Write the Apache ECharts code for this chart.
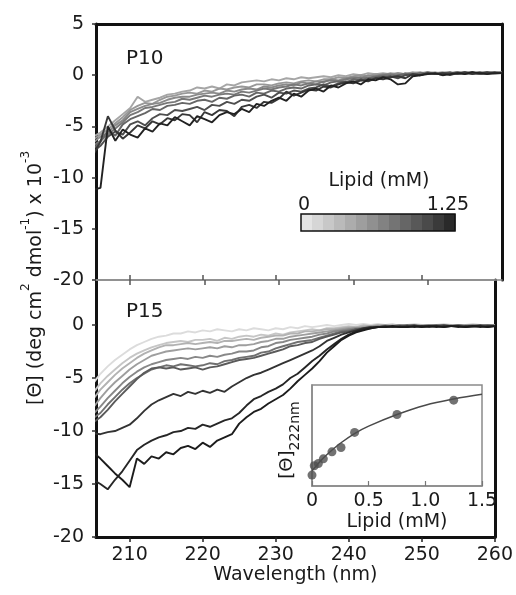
<!DOCTYPE html>
<html><head><meta charset="utf-8">
<script src="https://cdn.jsdelivr.net/npm/echarts@6/dist/echarts.min.js"></script>
<style>html,body{margin:0;padding:0;background:#fff}#c{width:516px;height:595px}</style>
</head><body><div id="c"></div>
<script>
// ---------------- data ----------------
const wavelength = [205,206,207,208,209,210,211,212,213,214,215,216,217,218,219,220,221,222,223,224,225,226,227,228,229,230,231,232,233,234,235,236,237,238,239,240,241,242,243,244,245,246,247,248,249,250,251,252,253,254,255,256,257,258,259,260];
const xTickValues = [210,220,230,240,250,260];
const xInnerTicks = [210,220,230,240,250];
const yTicksTop = [-20,-15,-10,-5,0,5];
const yTicksBottom = [-20,-15,-10,-5,0];
const insetXTicks = [0,0.5,1.0,1.5];
const insetXTickLabels = ['0','0.5','1.0','1.5'];
const lipidScaleLabels = ['0','1.25'];

// P10 spectra (low -> high lipid)
const p10_1 = [-6.0,-5.6,-5.0,-4.4,-3.8,-3.2,-2.1,-2.6,-2.4,-2.2, -1.9,-1.8,-1.6,-1.5,-1.2,-1.3,-1.1,-1.3,-0.9,-1.0, -0.7,-0.6,-0.5,-0.6,-0.4,-0.5,-0.3,-0.4,-0.2,-0.3, -0.2,-0.1,-0.2,0.0,-0.1,0.1,0.0,0.2,0.1,0.2, 0.1,0.2,0.1,0.3,0.2,0.2,0.3,0.1,0.2,0.3, 0.2,0.3,0.1,0.3,0.2,0.2];
const p10_2 = [-6.3,-5.8,-5.3,-4.7,-4.1,-3.4,-3.0,-2.7,-2.8,-2.4, -2.1,-2.0,-1.8,-1.7,-1.8,-1.5,-1.6,-1.3,-1.4,-1.2, -1.1,-1.2,-0.9,-0.9,-1.0,-0.8,-0.7,-0.8,-0.6,-0.5, -0.6,-0.4,-0.4,-0.2,-0.3,-0.1,0.0,-0.1,0.1,0.0, 0.2,0.1,0.0,0.2,0.3,0.1,0.2,0.3,0.2,0.1, 0.3,0.2,0.2,0.3,0.1,0.2];
const p10_3 = [-6.6,-6.0,-5.6,-4.9,-4.4,-3.6,-3.3,-3.0,-2.8,-2.7, -2.4,-2.2,-2.1,-2.1,-1.9,-1.8,-1.7,-1.8,-1.5,-1.6, -1.4,-1.3,-1.4,-1.1,-1.2,-1.0,-0.9,-1.0,-0.7,-0.8, -0.6,-0.7,-0.4,-0.5,-0.3,-0.2,-0.3,0.0,-0.1,0.1, 0.0,0.2,0.1,0.2,0.0,0.3,0.2,0.2,0.1,0.3, 0.2,0.1,0.3,0.2,0.2,0.3];
const p10_4 = [-6.9,-6.4,-5.8,-5.2,-4.6,-3.9,-3.6,-3.2,-3.1,-2.9, -2.7,-2.6,-2.3,-2.4,-2.2,-2.0,-2.1,-1.9,-1.8,-1.9, -1.6,-1.7,-1.5,-1.3,-1.4,-1.2,-1.1,-0.9,-1.0,-0.8, -0.9,-0.6,-0.5,-0.6,-0.4,-0.3,-0.2,-0.3,-0.1,0.0, 0.1,-0.1,0.2,0.1,0.2,0.3,0.1,0.2,0.2,0.1, 0.3,0.2,0.1,0.2,0.3,0.2];
const p10_5 = [-7.2,-6.5,-5.4,-5.9,-4.8,-4.3,-4.0,-3.7,-3.3,-3.4, -3.0,-2.9,-2.7,-2.8,-2.5,-2.4,-2.6,-2.2,-2.3,-2.0, -1.9,-2.1,-1.7,-1.8,-1.5,-1.6,-1.3,-1.2,-1.3,-1.0, -0.9,-1.0,-0.7,-0.6,-0.7,-0.4,-0.5,-0.3,-0.2,-0.1, -0.2,0.0,0.1,0.0,0.2,0.1,0.2,0.0,0.2,0.3, 0.1,0.2,0.3,0.1,0.2,0.3];
const p10_6 = [-7.5,-6.9,-6.0,-5.5,-5.8,-4.8,-4.5,-4.9,-4.2,-3.8, -3.9,-3.4,-3.5,-3.3,-3.1,-3.4,-2.9,-3.0,-2.6,-2.8, -2.4,-2.5,-2.1,-1.9,-2.2,-1.7,-1.8,-1.5,-1.6,-1.3, -1.2,-0.9,-1.1,-0.8,-0.6,-0.7,-0.4,-0.5,-0.3,-0.2, -0.1,-0.3,0.0,0.1,0.0,0.2,0.1,0.2,0.3,0.1, 0.2,0.3,0.1,0.2,0.3,0.2];
const p10_7 = [-7.8,-6.5,-4.0,-5.4,-6.2,-5.6,-4.9,-5.2,-4.5,-4.8, -4.2,-4.4,-3.8,-3.9,-4.6,-3.6,-3.9,-3.4,-3.5,-4.0, -3.1,-2.9,-3.2,-2.6,-2.7,-2.3,-1.6,-2.0,-1.7,-1.4, -1.5,-1.1,-1.2,-0.9,-0.7,-0.8,-0.5,-0.6,-0.3,-0.4, -0.2,-0.1,-0.3,0.1,0.0,0.2,0.1,0.2,0.0,0.2, 0.3,0.1,0.2,0.3,0.2,0.2];
const p10_8 = [-11.2,-11.0,-5.0,-6.4,-5.3,-5.8,-6.1,-5.2,-5.5,-4.7, -4.9,-4.1,-4.5,-4.9,-4.0,-4.3,-4.6,-3.9,-3.6,-3.8, -3.3,-3.6,-2.8,-3.0,-2.5,-2.2,-2.5,-1.8,-2.1,-1.5, -1.3,-1.6,-1.0,-1.2,-0.8,-0.6,-0.9,-0.4,-0.5,-0.2, -0.4,-0.9,-0.8,-0.1,0.0,0.1,0.2,0.0,0.1,0.2, 0.1,0.3,0.2,0.1,0.2,0.2];

// P15 spectra (low -> high lipid)
const p15_1 = [-5.5,-4.6,-3.9,-3.3,-2.8,-2.3,-1.9,-1.6,-1.3,-1.1, -1.0,-0.8,-0.8,-0.6,-0.7,-0.5,-0.6,-0.4,-0.5,-0.6, -0.4,-0.5,-0.3,-0.4,-0.5,-0.3,-0.4,-0.2,-0.3,-0.1, -0.2,-0.1,0.0,-0.1,0.0,0.1,0.0,0.1,0.0,0.1, 0.0,0.1,-0.1,0.0,0.1,0.0,-0.1,0.0,0.1,0.0, -0.1,0.0,0.1,0.0,-0.1,0.0];
const p15_2 = [-6.4,-5.5,-4.8,-4.2,-3.6,-3.1,-2.7,-2.4,-2.1,-1.9, -1.7,-1.6,-1.5,-1.6,-1.4,-1.4,-1.3,-1.5,-1.2,-1.3, -1.1,-1.0,-1.1,-0.9,-1.0,-0.8,-0.9,-0.7,-0.6,-0.5, -0.4,-0.5,-0.3,-0.3,-0.2,-0.1,-0.2,0.0,-0.1,0.0, 0.0,-0.1,0.0,-0.1,0.0,0.0,-0.1,0.0,-0.1,0.0, -0.1,0.0,0.0,-0.1,0.0,-0.1];
const p15_3 = [-7.0,-6.1,-5.4,-4.7,-4.1,-3.6,-3.1,-2.7,-2.4,-2.1, -1.9,-1.9,-1.8,-1.7,-1.8,-1.7,-1.6,-1.7,-1.5,-1.5, -1.4,-1.3,-1.4,-1.2,-1.1,-1.0,-1.0,-0.8,-0.8,-0.6, -0.6,-0.5,-0.4,-0.4,-0.3,-0.2,-0.2,-0.1,-0.1,0.0, -0.1,0.0,-0.1,0.0,-0.1,0.0,0.0,-0.1,0.0,-0.1, 0.0,-0.1,0.0,0.0,-0.1,0.0];
const p15_4 = [-7.8,-6.9,-6.1,-5.4,-4.8,-4.2,-3.7,-3.3,-2.9,-2.7, -2.5,-2.4,-2.3,-2.2,-2.3,-2.2,-2.1,-2.2,-2.0,-2.1, -1.9,-1.9,-1.8,-1.6,-1.5,-1.3,-1.3,-1.1,-1.0,-0.9, -0.8,-0.7,-0.6,-0.5,-0.4,-0.3,-0.3,-0.2,-0.1,-0.1, 0.0,-0.1,0.0,-0.1,0.0,-0.1,0.0,0.0,-0.1,0.0, -0.1,0.0,0.0,-0.1,0.0,-0.1];
const p15_5 = [-8.4,-7.7,-6.9,-6.2,-5.5,-4.9,-4.4,-4.0,-3.7,-3.5, -3.3,-3.2,-3.1,-3.2,-3.0,-3.1,-2.9,-3.0,-2.8,-2.7, -2.5,-2.5,-2.4,-2.1,-2.0,-1.7,-1.6,-1.4,-1.3,-1.2, -1.1,-0.9,-0.8,-0.6,-0.5,-0.4,-0.3,-0.3,-0.2,-0.1, -0.2,-0.1,0.0,-0.1,0.0,-0.1,0.0,-0.1,0.0,-0.1, 0.0,-0.1,0.0,-0.1,0.0,0.0];
const p15_6 = [-8.8,-8.3,-7.5,-6.8,-6.1,-5.5,-5.0,-4.6,-4.2,-4.0, -3.8,-3.9,-3.7,-3.8,-3.9,-3.8,-3.6,-3.7,-3.4,-3.3, -3.1,-3.0,-2.9,-2.6,-2.5,-2.2,-2.0,-1.8,-1.6,-1.5, -1.4,-1.2,-1.0,-0.8,-0.6,-0.5,-0.4,-0.3,-0.2,-0.2, -0.1,-0.2,-0.1,0.0,-0.1,-0.2,-0.1,0.0,-0.1,-0.1, 0.0,-0.1,-0.2,-0.1,0.0,-0.1];
const p15_7 = [-9.2,-8.7,-8.0,-7.2,-6.5,-5.8,-5.1,-4.5,-4.1,-4.0, -4.1,-4.0,-4.2,-4.1,-4.0,-4.2,-4.0,-3.9,-3.7,-3.5, -3.3,-3.2,-3.1,-2.9,-2.7,-2.5,-2.3,-2.0,-1.9,-1.7, -1.6,-1.3,-1.1,-0.9,-0.7,-0.6,-0.4,-0.4,-0.2,-0.2, -0.1,-0.2,-0.1,-0.1,0.0,-0.2,-0.1,-0.1,0.0,-0.1, -0.1,-0.2,-0.1,0.0,-0.1,-0.1];
const p15_8 = [-10.2,-10.3,-10.1,-10.0,-9.7,-9.4,-8.8,-8.1,-7.5,-7.1, -6.8,-6.5,-6.7,-6.3,-6.5,-6.2,-6.4,-6.1,-6.3,-5.8, -5.4,-5.0,-4.7,-4.5,-4.2,-3.9,-3.6,-3.3,-3.0,-2.7, -2.4,-2.0,-1.5,-1.2,-0.9,-0.7,-0.5,-0.3,-0.2,-0.2, -0.1,-0.2,-0.1,-0.2,-0.1,-0.1,-0.2,-0.1,-0.2,-0.1, -0.1,-0.2,-0.1,-0.1,-0.2,-0.1];
const p15_9 = [-14.6,-15.0,-15.5,-14.6,-13.8,-12.8,-11.8,-11.3,-10.9,-10.6, -10.4,-10.1,-10.0,-9.7,-9.8,-9.4,-9.6,-9.3,-9.0,-8.8, -8.3,-7.6,-7.0,-6.7,-6.3,-6.0,-5.6,-5.0,-4.6,-4.0, -3.4,-2.9,-2.3,-1.8,-1.3,-0.9,-0.6,-0.4,-0.3,-0.2, -0.2,-0.1,-0.2,-0.1,-0.2,-0.1,-0.1,-0.2,-0.1,-0.1, -0.2,-0.1,-0.1,-0.2,-0.1,-0.1];
const p15_10 = [-12.0,-12.6,-13.3,-14.0,-14.6,-15.3,-12.6,-13.1,-12.4,-12.6, -12.0,-12.2,-11.6,-11.4,-11.7,-11.1,-11.5,-10.9,-10.6,-10.3, -9.3,-8.7,-8.2,-7.9,-7.4,-7.0,-6.6,-6.0,-5.3,-4.7, -4.1,-3.4,-2.6,-2.0,-1.4,-1.0,-0.7,-0.5,-0.3,-0.2, -0.2,-0.1,-0.2,-0.2,-0.1,-0.2,-0.1,-0.1,-0.2,-0.1, -0.1,-0.2,-0.1,-0.1,-0.2,-0.1];

// inset: [Θ]222nm vs lipid
const insetLipid = [0, 0.02, 0.056, 0.1, 0.176, 0.256, 0.376, 0.75, 1.25];
const insetTheta = [-1.4, -2.6, -2.9, -3.5, -4.4, -4.95, -6.9, -9.2, -11.05];
const fitLipid = [0, 0.05, 0.1, 0.175, 0.25, 0.375, 0.5, 0.75, 1.0, 1.25, 1.5];
const fitTheta = [-1.95, -2.8, -3.6, -4.6, -5.5, -6.75, -7.7, -9.2, -10.4, -11.2, -11.8];

// ---------------- styles ----------------
const p10Series = [p10_1,p10_2,p10_3,p10_4,p10_5,p10_6,p10_7,p10_8];
const p10Colors = ['#a6a6a6','#989898','#8a8a8a','#787878','#666666','#4e4e4e','#383838','#222222'];
const p15Series = [p15_1,p15_2,p15_3,p15_4,p15_5,p15_6,p15_7,p15_8,p15_9,p15_10];
const p15Colors = ['#dcdcdc','#c6c6c6','#b2b2b2','#9e9e9e','#888888','#707070','#5a5a5a','#333333','#262626','#1c1c1c'];
const scaleColors = ['#e4e4e4','#d6d6d6','#c8c8c8','#bababa','#acacac','#9e9e9e','#909090','#828282','#747474','#666666','#585858','#4a4a4a','#3a3a3a','#2a2a2a'];

const FONT = 'DejaVu Sans';
const TXT = '#1a1a1a';
const pair = (xs, ys) => xs.map((x, i) => [x, ys[i]]);

const series = [];
p10Series.forEach((s, i) => series.push({
  type: 'line', xAxisIndex: 0, yAxisIndex: 0, data: pair(wavelength, s),
  showSymbol: false, lineStyle: { color: p10Colors[i], width: 1.9 }, z: 2 + i
}));
p15Series.forEach((s, i) => series.push({
  type: 'line', xAxisIndex: 2, yAxisIndex: 2, data: pair(wavelength, s),
  showSymbol: false, lineStyle: { color: p15Colors[i], width: 1.9 }, z: 2 + i
}));
series.push({ type: 'line', xAxisIndex: 4, yAxisIndex: 4, data: pair(fitLipid, fitTheta),
  smooth: 0.4, showSymbol: false, lineStyle: { color: '#4a4a4a', width: 1.5 }, z: 20 });
series.push({ type: 'scatter', xAxisIndex: 4, yAxisIndex: 4, data: pair(insetLipid, insetTheta),
  symbolSize: 9, itemStyle: { color: '#4f4f4f' }, z: 21 });

// colour scale legend
const sbX = 301, sbY = 214, sbW = 154, sbH = 17;
const scaleRects = scaleColors.map((c, i) => ({
  type: 'rect', shape: { x: sbX + i * sbW / scaleColors.length, y: sbY, width: sbW / scaleColors.length + 0.5, height: sbH },
  style: { fill: c }, silent: true
}));

const lblStyle = { fontFamily: FONT, fontSize: 19, color: TXT };
const noZero = { onZero: false };

const option = {
  animation: false,
  backgroundColor: '#fff',
  grid: [
    { left: 96, top: 24, width: 406, height: 256 },
    { left: 96, top: 280, width: 406, height: 257 },
    { left: 312, top: 385, width: 170, height: 101, show: true, backgroundColor: '#fff', borderColor: '#8a8a8a', borderWidth: 1.5 }
  ],
  xAxis: [
    { gridIndex: 0, type: 'value', position: 'bottom', min: 205.4, max: 260,
      axisLine: { onZero: false, lineStyle: { color: '#8a8a8a', width: 1.5 } },
      axisTick: { show: true, inside: false, length: 5, customValues: xInnerTicks, lineStyle: { color: '#555', width: 1.5 } },
      axisLabel: { show: false }, splitLine: { show: false } },
    { gridIndex: 0, type: 'value', position: 'top', min: 205.4, max: 260,
      axisLine: { onZero: false, lineStyle: { color: '#111', width: 3 } }, axisTick: { show: false }, axisLabel: { show: false }, splitLine: { show: false } },
    { gridIndex: 1, type: 'value', position: 'bottom', min: 205.4, max: 260,
      name: 'Wavelength (nm)', nameLocation: 'middle', nameGap: 28,
      nameTextStyle: { fontFamily: FONT, fontSize: 19, color: TXT },
      axisLine: { onZero: false, lineStyle: { color: '#111', width: 3 } },
      axisTick: { show: true, inside: false, length: 5, customValues: xTickValues, lineStyle: { color: '#222', width: 1.5 } },
      axisLabel: Object.assign({ customValues: xTickValues, margin: 9 }, lblStyle), splitLine: { show: false } },
    { gridIndex: 1, type: 'value', position: 'top', min: 205.4, max: 260,
      axisLine: { onZero: false, lineStyle: { color: '#8a8a8a', width: 1.5 } },
      axisTick: { show: true, inside: false, length: 5, customValues: xInnerTicks, lineStyle: { color: '#555', width: 1.5 } },
      axisLabel: { show: false }, splitLine: { show: false } },
    { gridIndex: 2, type: 'value', min: 0, max: 1.5, interval: 0.5,
      axisLine: { onZero: false, lineStyle: { color: '#8a8a8a', width: 1.5 } },
      axisTick: { show: true, inside: true, length: 5, lineStyle: { color: '#777', width: 1.2 } },
      axisLabel: Object.assign({ margin: 6, formatter: v => insetXTickLabels[insetXTicks.indexOf(v)] }, lblStyle),
      name: 'Lipid (mM)', nameLocation: 'middle', nameGap: 27,
      nameTextStyle: { fontFamily: FONT, fontSize: 19, color: TXT }, splitLine: { show: false } }
  ],
  yAxis: [
    { gridIndex: 0, type: 'value', position: 'left', min: -20, max: 5, interval: 5,
      axisLine: { show: true, onZero: false, lineStyle: { color: '#111', width: 3 } },
      axisTick: { show: true, inside: false, length: 4, customValues: yTicksTop, lineStyle: { color: '#333', width: 1.5 } },
      axisLabel: Object.assign({ customValues: yTicksTop, margin: 12 }, lblStyle), splitLine: { show: false } },
    { gridIndex: 0, type: 'value', position: 'right', min: -20, max: 5,
      axisLine: { show: true, onZero: false, lineStyle: { color: '#111', width: 3 } }, axisTick: { show: false }, axisLabel: { show: false }, splitLine: { show: false } },
    { gridIndex: 1, type: 'value', position: 'left', min: -20, max: 4.25,
      axisLine: { show: true, onZero: false, lineStyle: { color: '#111', width: 3 } },
      axisTick: { show: true, inside: false, length: 4, customValues: yTicksBottom, lineStyle: { color: '#333', width: 1.5 } },
      axisLabel: Object.assign({ customValues: yTicksBottom, margin: 12 }, lblStyle), splitLine: { show: false } },
    { gridIndex: 1, type: 'value', position: 'right', min: -20, max: 4.25,
      axisLine: { show: true, onZero: false, lineStyle: { color: '#111', width: 3 } }, axisTick: { show: false }, axisLabel: { show: false }, splitLine: { show: false } },
    { gridIndex: 2, type: 'value', min: -13, max: 0, inverse: true,
      axisLine: { show: true, onZero: false, lineStyle: { color: '#8a8a8a', width: 1.5 } }, axisTick: { show: false }, axisLabel: { show: false }, splitLine: { show: false } }
  ],
  series: series,
  graphic: [
    { type: 'text', left: 126, top: 49, style: { text: 'P10', font: '20px "DejaVu Sans"', fill: TXT }, silent: true },
    { type: 'text', left: 126, top: 302, style: { text: 'P15', font: '20px "DejaVu Sans"', fill: TXT }, silent: true },
    { type: 'text', x: 379, y: 181, style: { text: 'Lipid (mM)', font: '19px "DejaVu Sans"', fill: TXT, align: 'center', verticalAlign: 'middle' }, silent: true },
    { type: 'text', x: 304, y: 205, style: { text: lipidScaleLabels[0], font: '19px "DejaVu Sans"', fill: TXT, align: 'center', verticalAlign: 'middle' }, silent: true },
    { type: 'text', x: 448, y: 205, style: { text: lipidScaleLabels[1], font: '19px "DejaVu Sans"', fill: TXT, align: 'center', verticalAlign: 'middle' }, silent: true },
    { type: 'group', children: scaleRects.concat([
      { type: 'rect', shape: { x: sbX, y: sbY, width: sbW, height: sbH }, style: { fill: 'none', stroke: '#111', lineWidth: 1.5 }, silent: true }
    ]) },
    { type: 'text', x: 33, y: 278, rotation: Math.PI / 2, silent: true,
      style: { text: '{m|[Θ] (deg cm}{s|2}{m| dmol}{s|-1}{m|) x 10}{s|-3}', align: 'center', verticalAlign: 'middle', fill: TXT,
        rich: { m: { fontFamily: FONT, fontSize: 19, lineHeight: 26, verticalAlign: 'bottom', color: TXT },
                s: { fontFamily: FONT, fontSize: 12, verticalAlign: 'top', color: TXT } } } },
    { type: 'text', x: 290, y: 440, rotation: Math.PI / 2, silent: true,
      style: { text: '{m|[Θ]}{s|222nm}', align: 'center', verticalAlign: 'middle', fill: TXT,
        rich: { m: { fontFamily: FONT, fontSize: 18, lineHeight: 24, verticalAlign: 'top', color: TXT },
                s: { fontFamily: FONT, fontSize: 14, verticalAlign: 'bottom', color: TXT } } } }
  ]
};
const chart = echarts.init(document.getElementById('c'), null, { renderer: 'canvas' });
chart.setOption(option);
</script></body></html>
